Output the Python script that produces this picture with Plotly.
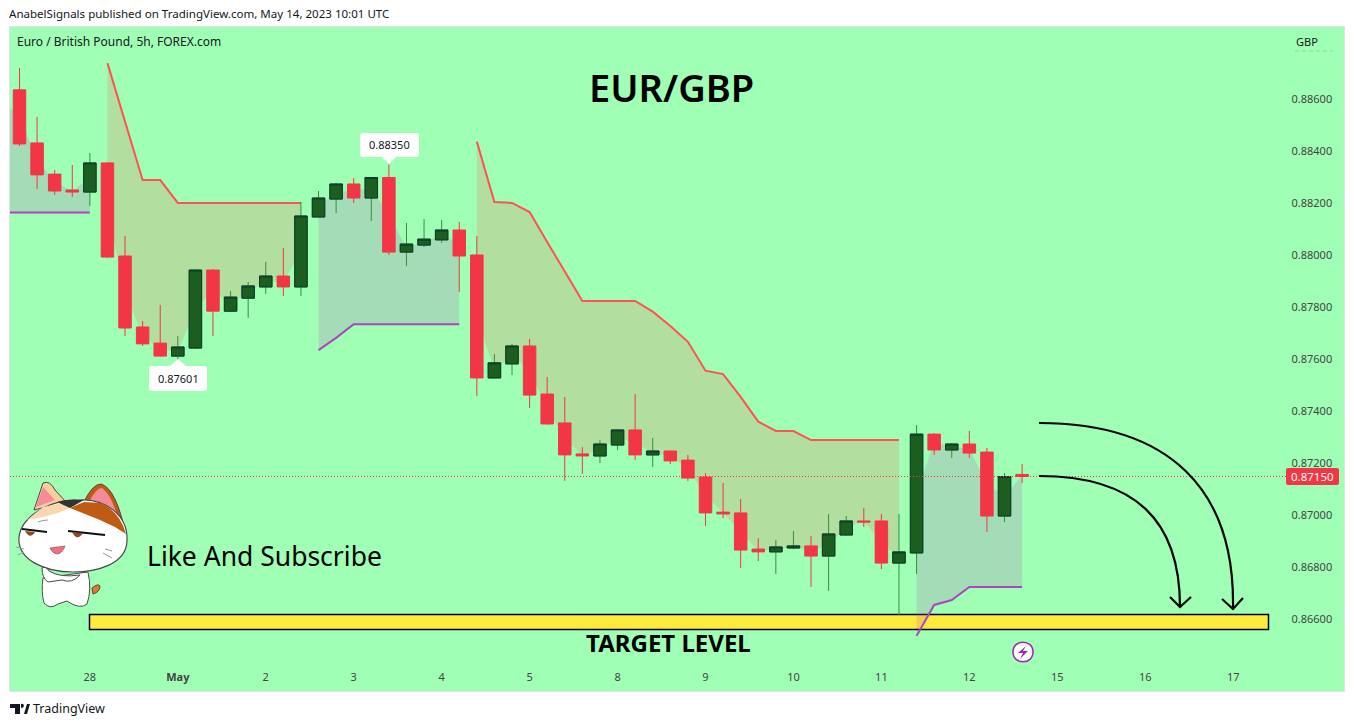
import plotly.graph_objects as go

WIDTH = 1354
HEIGHT = 727
PLOT_LEFT, PLOT_RIGHT, PLOT_TOP, PLOT_BOTTOM = 10, 1344, 27, 691

BG = "#9FFFB5"
RED = "#F23645"
GREEN_BODY = "#1B5E20"
GREEN_EDGE = "#0B3B2E"
GREEN_WICK = "#388E3C"
TEXT = "#131722"

# candles, 5h bars
open_p = [0.88637, 0.88433, 0.88313, 0.88252, 0.88244, 0.88356, 0.87998, 0.87725, 0.87663, 0.87613,
          0.87644, 0.87944, 0.87786, 0.87836, 0.87879, 0.87921, 0.87879, 0.88148, 0.88217, 0.88275,
          0.88221, 0.88300, 0.88013, 0.88040, 0.88060, 0.88098, 0.88002, 0.87529, 0.87583, 0.87652,
          0.87467, 0.87356, 0.87237, 0.87229, 0.87271, 0.87329, 0.87233, 0.87248, 0.87213, 0.87148,
          0.87013, 0.87010, 0.86871, 0.86860, 0.86875, 0.86883, 0.86844, 0.86925, 0.86979, 0.86979,
          0.86817, 0.86856, 0.87313, 0.87252, 0.87275, 0.87244, 0.86998, 0.87158]
high_p = [0.88721, 0.88533, 0.88329, 0.88348, 0.88394, 0.88359, 0.88075, 0.87748, 0.87810, 0.87690,
          0.87948, 0.87948, 0.87863, 0.87898, 0.87975, 0.88029, 0.88206, 0.88248, 0.88279, 0.88298,
          0.88302, 0.88350, 0.88125, 0.88140, 0.88136, 0.88129, 0.88075, 0.87621, 0.87660, 0.87679,
          0.87533, 0.87456, 0.87263, 0.87290, 0.87333, 0.87467, 0.87298, 0.87250, 0.87233, 0.87163,
          0.87125, 0.87063, 0.86913, 0.86906, 0.86940, 0.86921, 0.87006, 0.86998, 0.87029, 0.87006,
          0.87006, 0.87348, 0.87317, 0.87279, 0.87325, 0.87260, 0.87163, 0.87198]
low_p = [0.88421, 0.88256, 0.88233, 0.88225, 0.88190, 0.87990, 0.87690, 0.87652, 0.87610, 0.87601,
         0.87640, 0.87690, 0.87782, 0.87760, 0.87852, 0.87844, 0.87844, 0.88146, 0.88163, 0.88202,
         0.88133, 0.88002, 0.87960, 0.88033, 0.88048, 0.87860, 0.87460, 0.87527, 0.87540, 0.87413,
         0.87350, 0.87133, 0.87160, 0.87202, 0.87252, 0.87213, 0.87187, 0.87198, 0.87133, 0.86960,
         0.86990, 0.86798, 0.86825, 0.86775, 0.86871, 0.86725, 0.86710, 0.86921, 0.86956, 0.86794,
         0.86617, 0.86775, 0.87233, 0.87221, 0.87221, 0.86937, 0.86975, 0.87125]
close_p = [0.88429, 0.88310, 0.88248, 0.88244, 0.88356, 0.87994, 0.87721, 0.87660, 0.87613, 0.87648,
           0.87944, 0.87786, 0.87840, 0.87883, 0.87921, 0.87879, 0.88152, 0.88221, 0.88275, 0.88221,
           0.88300, 0.88013, 0.88044, 0.88063, 0.88098, 0.87998, 0.87529, 0.87587, 0.87652, 0.87463,
           0.87352, 0.87233, 0.87229, 0.87275, 0.87329, 0.87233, 0.87248, 0.87210, 0.87144, 0.87010,
           0.87006, 0.86867, 0.86860, 0.86879, 0.86883, 0.86844, 0.86929, 0.86979, 0.86975, 0.86817,
           0.86860, 0.87313, 0.87252, 0.87275, 0.87240, 0.86998, 0.87150, 0.87150]

# trend lines, one list per segment
lead_mid = 0.88598
up_line_1 = [0.88165, 0.88165, 0.88165, 0.88165, 0.88165, 0.88165]
down_line_1 = [0.88740, 0.88517, 0.88290, 0.88290, 0.88202, 0.88202, 0.88202, 0.88202, 0.88202, 0.88202,
               0.88202, 0.88202]
up_line_2 = [0.87636, 0.87683, 0.87736, 0.87736, 0.87736, 0.87736, 0.87736, 0.87736, 0.87736]
down_line_2 = [0.88438, 0.88206, 0.88202, 0.88167, 0.88052, 0.87940, 0.87825, 0.87825, 0.87825, 0.87825,
               0.87784, 0.87729, 0.87668, 0.87557, 0.87544, 0.87456, 0.87361, 0.87325, 0.87325, 0.87290,
               0.87290, 0.87290, 0.87290, 0.87290, 0.87290]
up_line_3 = [0.86537, 0.86656, 0.86675, 0.86725, 0.86725, 0.86725, 0.86725]

price_ticks = [0.866, 0.868, 0.870, 0.872, 0.874, 0.876, 0.878, 0.880, 0.882, 0.884, 0.886]
date_tick_pos = [4, 9, 14, 19, 24, 29, 34, 39, 44, 49, 54, 59, 64, 69]
date_tick_text = ["28", "<b>May</b>", "2", "3", "4", "5", "8", "9", "10", "11", "12", "15", "16", "17"]
last_price = 0.87150

bar_idx = list(range(len(open_p)))
body_mid = [(o + c) / 2 for o, c in zip(open_p, close_p)]
green = [i for i in bar_idx if close_p[i] >= open_p[i]]
red = [i for i in bar_idx if close_p[i] < open_p[i]]

x_range = [-0.54, 75.3]
y_range = [0.86325, 0.888788]


def px_x(x):
    return (x - PLOT_LEFT) / (PLOT_RIGHT - PLOT_LEFT)


def px_y(y):
    return 1 - (y - PLOT_TOP) / (PLOT_BOTTOM - PLOT_TOP)


def px_path(cmds):
    # svg path written in page pixels, turned into paper fractions
    out = []
    is_x = True
    for tok in cmds.split():
        if tok.isalpha():
            out.append(tok)
        elif is_x:
            out.append(f"{px_x(float(tok)):.5f}")
            is_x = False
        else:
            out.append(f"{px_y(float(tok)):.5f}")
            is_x = True
    return " ".join(out)


shapes = []


def draw(cmds, fill=None, line=None, width=1, layer="above", dash="solid"):
    shapes.append(dict(type="path", xref="paper", yref="paper", path=px_path(cmds), layer=layer,
                       fillcolor=fill if fill else "rgba(0,0,0,0)",
                       line=dict(color=line if line else "rgba(0,0,0,0)", width=width if line else 0, dash=dash)))


def round_box(x0, y0, x1, y1, r):
    return (f"M {x0 + r} {y0} L {x1 - r} {y0} Q {x1} {y0} {x1} {y0 + r} L {x1} {y1 - r} "
            f"Q {x1} {y1} {x1 - r} {y1} L {x0 + r} {y1} Q {x0} {y1} {x0} {y1 - r} "
            f"L {x0} {y0 + r} Q {x0} {y0} {x0 + r} {y0} Z")


annotations = []


def label(x, y, text, size, color=TEXT, anchor="center", family="Noto Sans", weight=None):
    annotations.append(dict(x=px_x(x), y=px_y(y), xref="paper", yref="paper", text=text, showarrow=False,
                            xanchor=anchor, yanchor="middle",
                            font=dict(size=size, color=color, family=family, weight=weight)))


fig = go.Figure()


def trend_zone(xs, mids, line_vals, line_color, fill_color):
    fig.add_trace(go.Scatter(x=xs, y=mids, mode="lines", line=dict(width=0), hoverinfo="skip"))
    fig.add_trace(go.Scatter(x=xs, y=line_vals, mode="lines", line=dict(color=line_color, width=2),
                             fill="tonexty", fillcolor=fill_color, hoverinfo="skip"))


UP_LINE = "#AB47BC"
UP_FILL = "rgba(190,80,200,0.2)"
DOWN_LINE = "#FF5252"
DOWN_FILL = "rgba(255,90,75,0.2)"

trend_zone([-1] + bar_idx[0:5], [lead_mid] + body_mid[0:5], up_line_1, UP_LINE, UP_FILL)
trend_zone(bar_idx[5:17], body_mid[5:17], down_line_1, DOWN_LINE, DOWN_FILL)
trend_zone(bar_idx[17:26], body_mid[17:26], up_line_2, UP_LINE, UP_FILL)
trend_zone(bar_idx[26:51], body_mid[26:51], down_line_2, DOWN_LINE, DOWN_FILL)
trend_zone(bar_idx[51:58], body_mid[51:58], up_line_3, UP_LINE, UP_FILL)

# candles live on overlaying axes, plotly would put them under the scatter fills otherwise
fig.add_trace(go.Candlestick(
    x=red,
    open=[open_p[i] for i in red], high=[high_p[i] for i in red],
    low=[low_p[i] for i in red], close=[close_p[i] for i in red],
    increasing=dict(line=dict(color=RED, width=1), fillcolor=RED),
    decreasing=dict(line=dict(color=RED, width=1), fillcolor=RED),
    xaxis="x2", yaxis="y2",
))
# green candles: wicks first, the darker edged bodies on top
fig.add_trace(go.Candlestick(
    x=green,
    open=[open_p[i] for i in green], high=[high_p[i] for i in green],
    low=[low_p[i] for i in green], close=[close_p[i] for i in green],
    increasing=dict(line=dict(color=GREEN_WICK, width=1), fillcolor=GREEN_BODY),
    decreasing=dict(line=dict(color=GREEN_WICK, width=1), fillcolor=GREEN_BODY),
    xaxis="x2", yaxis="y2",
))
fig.add_trace(go.Candlestick(
    x=green,
    open=[open_p[i] for i in green], high=[close_p[i] for i in green],
    low=[open_p[i] for i in green], close=[close_p[i] for i in green],
    increasing=dict(line=dict(color=GREEN_EDGE, width=1), fillcolor=GREEN_BODY),
    decreasing=dict(line=dict(color=GREEN_EDGE, width=1), fillcolor=GREEN_BODY),
    xaxis="x2", yaxis="y2",
))

# last price line
shapes.append(dict(type="line", xref="paper", yref="y", x0=0, x1=px_x(1286), y0=last_price, y1=last_price,
                   line=dict(color=RED, width=1, dash="1px,2px"), layer="above"))

# target box, under the indicator
draw("M 89.5 614.5 L 1268.5 614.5 L 1268.5 629.5 L 89.5 629.5 Z", fill="#FFEB3B", line="#000000", width=1.5, layer="below")

# hand drawn arrows
draw("M 1039 423 C 1170 423 1235 490 1233 608", line="#000000", width=2.2)
draw("M 1222 599 L 1233 609 L 1243 598", line="#000000", width=2.2)
draw("M 1039 476 C 1135 476 1180 520 1180 607", line="#000000", width=2.2)
draw("M 1170 597 L 1180 607 L 1191 597", line="#000000", width=2.2)

# high and low bubbles
draw(round_box(149, 366, 207, 391, 3), fill="#FFFFFF")
draw("M 169 367 L 178 359 L 187 367 Z", fill="#FFFFFF")
draw(round_box(360, 133, 419, 157, 3), fill="#FFFFFF")
draw("M 381 156 L 389 164 L 397 156 Z", fill="#FFFFFF")
label(178, 378, "0.87601", 11)
label(389, 144, "0.88350", 11)

# last price tag
draw(round_box(1286, 468, 1339, 485, 2), fill=RED)
label(1312.5, 476.5, "0.87150", 11.5, color="#FFFFFF")

# earnings style mark on the time line
draw("M 1013 652 C 1013 639 1033 639 1033 652 C 1033 665 1013 665 1013 652 Z", fill="#FFFFFF", line="#9C27B0", width=1.5)
draw("M 1026 646 L 1018 653 L 1023 653 L 1020 659 L 1028 651 L 1023 651 Z", fill="#9C27B0")

# cat sticker
OUT = "#4A4A4A"
draw("M 43 578 Q 41 592 44 603 Q 50 610 58 604 L 67 601 Q 80 610 87 604 Q 92 590 88 572 Z", fill="#FFFFFF", line=OUT)
draw("M 92 588 Q 98 583 100 586 Q 100 592 93 594 Z", fill="#E8772E", line=OUT)
draw("M 34 510 L 43 483 Q 50 480 55 490 L 66 502 Z", fill="#F8CE9C", line=OUT)
draw("M 36 507 L 43 487 L 55 500 Z", fill="#F58A98")
draw("M 83 504 Q 92 484 101 484 Q 116 488 126 535 L 100 520 Z", fill="#BF5B12", line=OUT)
draw("M 89 502 Q 96 488 102 488 Q 112 495 118 519 Z", fill="#F58A98")
draw("M 19 537 C 22 512 60 498 78 500 C 105 498 128 515 127 540 C 127 565 95 572 73 572 C 45 572 17 560 19 537 Z",
     fill="#FFFFFF", line=OUT, width=1.2)
draw("M 70 508 L 84 502 L 101 503 Q 120 512 126 534 L 115 527 L 100 520 Z", fill="#BF5B12")
draw("M 27 520 L 43 507 L 62 503 L 70 508 L 58 513 L 43 517 Z", fill="#FAD7B0")
draw("M 57 502 L 66 500 L 84 500 L 70 508 Z", fill="#333333")
draw("M 42 568 Q 46 566 49 571 Q 60 578 80 575 Q 72 584 62 580 L 48 582 Q 42 578 42 568 Z", fill="#FFFFFF", line=OUT)
draw("M 22 529 L 47 532", line="#111111", width=2)
draw("M 68 531 L 105 535", line="#111111", width=2)
draw("M 25 531 Q 30 540 35 532 Z", fill="#8A4A2A")
draw("M 72 532 Q 77 542 83 533 Z", fill="#8A4A2A")
draw("M 50 548 L 65 546 Q 62 554 57 554 Q 52 553 50 548 Z", fill="#EC7080", line="#A05050", width=0.7)
draw("M 38 522 Q 43 520 48 520", line="#9A9A9A", width=1)
draw("M 16 547 L 24 549", line="#9A9A9A", width=1)
draw("M 18 555 L 24 552", line="#9A9A9A", width=1)
draw("M 105 549 L 112 551", line="#9A9A9A", width=1)
draw("M 103 553 L 112 558", line="#9A9A9A", width=1)

# tradingview mark in the footer
draw("M 10 704 L 20 704 L 20 714 L 15 714 L 15 708 L 10 708 Z", fill="#131722")
draw("M 21 704 Q 23.5 703 24 706 Q 23.5 708 21 708 Z", fill="#131722")
draw("M 24 714 L 27 704 L 30 704 L 27 714 Z", fill="#131722")

label(7, 14, "AnabelSignals published on TradingView.com, May 14, 2023 10:01 UTC", 11.55, anchor="left")
label(15, 42, "Euro / British Pound, 5h, FOREX.com", 12, anchor="left")
label(1307, 41, "GBP", 11)
draw("M 1295 51 L 1333 51", line="#8FD8A0", width=1, dash="4px,3px")
label(671, 87, "EUR/GBP", 38, color="#000000", weight=600)
label(264, 556, "Like And Subscribe", 26.5, color="#000000")
label(668, 642, "TARGET LEVEL", 24, color="#000000", weight=700)
label(31, 709, "TradingView", 12.5, anchor="left")

fig.update_layout(
    width=WIDTH,
    height=HEIGHT,
    autosize=False,
    margin=dict(l=PLOT_LEFT, r=WIDTH - PLOT_RIGHT, t=PLOT_TOP, b=HEIGHT - PLOT_BOTTOM, pad=0),
    paper_bgcolor="#FFFFFF",
    plot_bgcolor=BG,
    showlegend=False,
    boxmode="overlay",
    boxgap=0.29,
    boxgroupgap=0,
    shapes=shapes,
    annotations=annotations,
    font=dict(family="Noto Sans", size=11, color=TEXT),
    xaxis=dict(
        range=x_range,
        tickvals=date_tick_pos,
        ticktext=date_tick_text,
        ticks="",
        ticklabelposition="inside",
        ticklabelstandoff=7,
        showgrid=False,
        zeroline=False,
        showline=True,
        linecolor="#E0E3EB",
        linewidth=1,
        mirror=True,
    ),
    yaxis=dict(
        side="right",
        range=y_range,
        tickvals=price_ticks,
        tickformat=".5f",
        ticks="",
        ticklabelposition="inside",
        ticklabelstandoff=11,
        showgrid=False,
        zeroline=False,
        showline=True,
        linecolor="#E0E3EB",
        linewidth=1,
        mirror=True,
    ),
    xaxis2=dict(overlaying="x", range=x_range, visible=False, rangeslider=dict(visible=False)),
    yaxis2=dict(overlaying="y", range=y_range, visible=False),
)

fig.write_html("out.html", config=dict(displayModeBar=False), post_script="document.body.style.margin='0';")
